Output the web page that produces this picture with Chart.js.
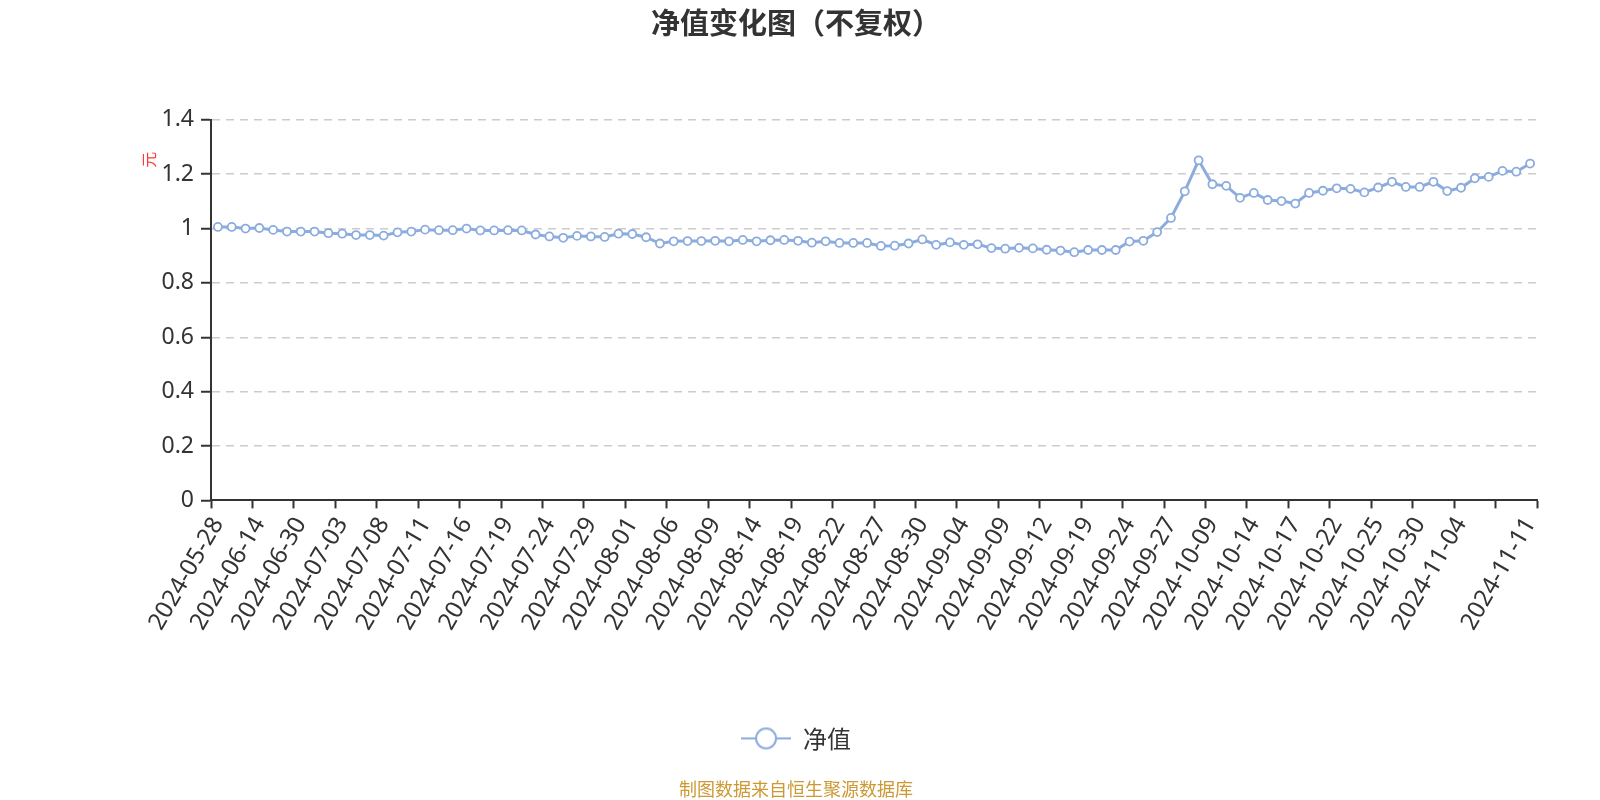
<!DOCTYPE html>
<html>
<head>
<meta charset="utf-8">
<script src="https://cdn.jsdelivr.net/npm/chart.js@4.4.1/dist/chart.umd.min.js"></script>
<style>
  body { margin: 0; background: #fff; }
  #wrap { width: 1600px; height: 800px; }
</style>
</head>
<body>
<div id="wrap"><canvas id="cnvs" width="1600" height="800"></canvas></div>
<script>
// chart data
const dates = [
  '2024-05-28','2024-05-31','2024-06-07','2024-06-14','2024-06-21','2024-06-28','2024-06-30','2024-07-01','2024-07-02','2024-07-03',
  '2024-07-04','2024-07-05','2024-07-08','2024-07-09','2024-07-10','2024-07-11','2024-07-12','2024-07-15','2024-07-16','2024-07-17',
  '2024-07-18','2024-07-19','2024-07-22','2024-07-23','2024-07-24','2024-07-25','2024-07-26','2024-07-29','2024-07-30','2024-07-31',
  '2024-08-01','2024-08-02','2024-08-05','2024-08-06','2024-08-07','2024-08-08','2024-08-09','2024-08-12','2024-08-13','2024-08-14',
  '2024-08-15','2024-08-16','2024-08-19','2024-08-20','2024-08-21','2024-08-22','2024-08-23','2024-08-26','2024-08-27','2024-08-28',
  '2024-08-29','2024-08-30','2024-09-02','2024-09-03','2024-09-04','2024-09-05','2024-09-06','2024-09-09','2024-09-10','2024-09-11',
  '2024-09-12','2024-09-13','2024-09-18','2024-09-19','2024-09-20','2024-09-23','2024-09-24','2024-09-25','2024-09-26','2024-09-27',
  '2024-09-30','2024-10-08','2024-10-09','2024-10-10','2024-10-11','2024-10-14','2024-10-15','2024-10-16','2024-10-17','2024-10-18',
  '2024-10-21','2024-10-22','2024-10-23','2024-10-24','2024-10-25','2024-10-28','2024-10-29','2024-10-30','2024-10-31','2024-11-01',
  '2024-11-04','2024-11-05','2024-11-06','2024-11-07','2024-11-08','2024-11-11'
];
const navValues = [
  1.006,1.006,1.000,1.002,0.995,0.989,0.989,0.989,0.983,0.981,
  0.976,0.976,0.974,0.986,0.989,0.996,0.994,0.994,1.000,0.993,
  0.993,0.994,0.993,0.978,0.971,0.966,0.973,0.971,0.969,0.981,
  0.980,0.968,0.945,0.953,0.954,0.954,0.955,0.953,0.958,0.953,
  0.957,0.958,0.955,0.948,0.953,0.947,0.947,0.947,0.936,0.937,
  0.945,0.960,0.940,0.949,0.940,0.942,0.928,0.926,0.929,0.927,
  0.922,0.919,0.913,0.921,0.921,0.921,0.952,0.955,0.987,1.039,
  1.137,1.251,1.163,1.157,1.113,1.131,1.105,1.101,1.092,1.131,
  1.139,1.148,1.146,1.133,1.151,1.172,1.153,1.153,1.172,1.138,
  1.150,1.185,1.190,1.212,1.209,1.239
];
const seriesName = '净值';
const chartTitle = '净值变化图（不复权）';
const yUnit = '元';
const sourceText = '制图数据来自恒生聚源数据库';
const yMin = 0, yMax = 1.4, yStep = 0.2;
const labelEvery = 3; // every 3rd date gets a label, plus the last one

const lineColor = '#8cacde';
const fontFam = '"Noto Sans", "Noto Sans CJK SC", sans-serif';
const cjkFam = '"Noto Sans CJK SC", "Noto Sans", sans-serif';

// legend marker: short line with a hollow circle
const legendIcon = document.createElement('canvas');
legendIcon.width = 50; legendIcon.height = 26;
const lctx = legendIcon.getContext('2d');
lctx.strokeStyle = lineColor; lctx.lineWidth = 2;
lctx.beginPath(); lctx.moveTo(0, 13); lctx.lineTo(50, 13); lctx.stroke();
lctx.beginPath(); lctx.arc(25, 13, 10, 0, Math.PI * 2);
lctx.fillStyle = '#fff'; lctx.fill(); lctx.stroke();

// red unit label next to the y axis
const unitLabel = {
  id: 'unitLabel',
  afterDraw(chart) {
    const {ctx, chartArea} = chart;
    ctx.save();
    ctx.translate(chartArea.left - 62, chartArea.top + 40);
    ctx.rotate(-Math.PI / 2);
    ctx.fillStyle = '#ff3b30';
    ctx.font = '16px ' + cjkFam;
    ctx.textAlign = 'center';
    ctx.textBaseline = 'middle';
    ctx.fillText(yUnit, 0, 0);
    ctx.restore();
  }
};

const ctx = document.getElementById('cnvs').getContext('2d');
const chart = new Chart(ctx, {
  type: 'line',
  data: {
    labels: dates,
    datasets: [{
      label: seriesName,
      data: navValues,
      borderColor: lineColor,
      borderWidth: 3,
      tension: 0,
      pointRadius: 4,
      pointBorderWidth: 1.8,
      pointBackgroundColor: '#fff',
      pointBorderColor: lineColor
    }]
  },
  options: {
    responsive: false,
    animation: false,
    layout: { padding: { left: 55, right: 63, top: 0, bottom: 0 } },
    scales: {
      x: {
        type: 'category',
        offset: true,
        grid: {
          offset: true,
          drawOnChartArea: false,
          color: 'rgba(0,0,0,0)',
          tickLength: 8,
          tickWidth: 2,
          tickColor: c => (c.index === undefined || c.index % labelEvery === 0) ? '#333' : 'rgba(0,0,0,0)'
        },
        border: { color: '#333', width: 2 },
        ticks: {
          autoSkip: false,
          minRotation: 60,
          maxRotation: 60,
          padding: 4,
          color: '#333',
          font: { size: 24, family: fontFam },
          callback: function(v, i) {
            if ((i % labelEvery === 0 && i <= dates.length - 4) || i === dates.length - 1) return this.getLabelForValue(v);
            return '';
          }
        },
        afterFit: s => { s.height = 216; }
      },
      y: {
        min: yMin,
        max: yMax,
        ticks: {
          stepSize: yStep,
          color: '#333',
          padding: 7,
          font: { size: 23, family: fontFam },
          callback: v => String(Number(v.toFixed(1)))
        },
        grid: {
          color: c => (c.tick && c.tick.value === 0) ? 'rgba(0,0,0,0)' : '#ccc',
          lineWidth: 1.5,
          tickColor: '#333',
          tickWidth: 2,
          tickLength: 10,
          tickBorderDash: []
        },
        border: { color: '#333', width: 2, dash: [8, 6] },
        afterFit: s => { s.width = 156; }
      }
    },
    plugins: {
      title: {
        display: true,
        text: chartTitle,
        color: '#333',
        font: { size: 29, weight: 'bold', family: cjkFam },
        padding: { top: 6, bottom: 79 }
      },
      subtitle: {
        display: true,
        position: 'bottom',
        text: sourceText,
        color: '#cc9933',
        font: { size: 18, family: cjkFam },
        padding: { top: 18, bottom: 0 }
      },
      legend: {
        position: 'bottom',
        labels: {
          usePointStyle: true,
          pointStyle: legendIcon,
          pointStyleWidth: 50,
          color: '#333',
          padding: 10,
          font: { size: 24, family: cjkFam }
        }
      },
      tooltip: { enabled: false }
    }
  },
  plugins: [unitLabel]
});
</script>
</body>
</html>
